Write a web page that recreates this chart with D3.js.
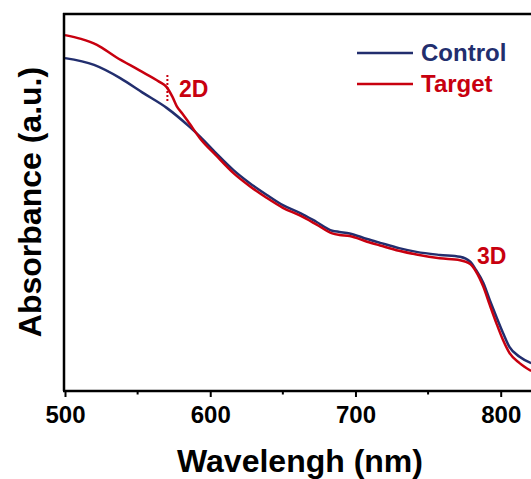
<html>
<head>
	<script src="https://d3js.org/d3.v7.min.js"></script>
	<style>
		body { margin: 0; background: #fff; }
		text { font-family: Arial, "Liberation Sans", sans-serif; font-weight: bold; }
	</style>
</head>
<body>
	<script>
		// wavelength (nm) and absorbance (a.u.)
		var wlControl = [500,520,538,554,570,586,593,604,616,627,639,650,662,673,684,689,696,708,717,730,742,758,772,779,783,788,792.5,797,801.6,806,813,821];
		var absControl = [0.883,0.865,0.830,0.790,0.751,0.700,0.675,0.631,0.586,0.552,0.520,0.493,0.472,0.449,0.425,0.422,0.418,0.403,0.393,0.379,0.369,0.361,0.356,0.343,0.321,0.287,0.241,0.197,0.154,0.117,0.091,0.074];
		var wlTarget = [500,511,522,535,551,565,570,574,577,581,586,593,604,616,627,639,650,662,673,684,689,696,708,717,730,742,758,772,779,783,788,792.5,797,801.6,806,813,821];
		var absTarget = [0.944,0.934,0.918,0.886,0.851,0.820,0.806,0.780,0.755,0.735,0.708,0.670,0.625,0.578,0.544,0.512,0.486,0.465,0.442,0.418,0.414,0.411,0.396,0.386,0.372,0.362,0.352,0.347,0.337,0.317,0.277,0.228,0.180,0.135,0.101,0.074,0.053];
		var xTicks = [500,600,700,800];
		var xMinor = [550,650,750];
		var seriesNames = ["Control","Target"];
		var colors = ["#222e6e","#c8000f"];
		var marks = [{label:"2D", wl:570.5}, {label:"3D", wl:780}];

		var w = 531, h = 479;
		var mLeft = 64, mTop = 14, mBottom = 391;

		var x = d3.scaleLinear().domain([500, 800]).range([65, 500.7]);
		var y = d3.scaleLinear().domain([0, 1]).range([mBottom, mTop]);

		var svg = d3.select("body").append("svg").attr("width", w).attr("height", h);

		svg.append("clipPath").attr("id", "clip")
			.append("rect").attr("x", mLeft).attr("y", mTop).attr("width", w - mLeft).attr("height", mBottom - mTop);

		var line = d3.line()
			.x(function(d){ return x(d[0]); })
			.y(function(d){ return y(d[1]); })
			.curve(d3.curveMonotoneX);

		var series = [d3.zip(wlControl, absControl), d3.zip(wlTarget, absTarget)];

		var g = svg.append("g").attr("clip-path", "url(#clip)");
		series.forEach(function(s, i){
			g.append("path").attr("d", line(s))
				.attr("fill", "none").attr("stroke", colors[i]).attr("stroke-width", 2.5);
		});

		// 2D marker (dotted) and labels
		svg.append("line")
			.attr("x1", x(marks[0].wl)).attr("x2", x(marks[0].wl))
			.attr("y1", 75).attr("y2", 103)
			.attr("stroke", colors[1]).attr("stroke-width", 2).attr("stroke-dasharray", "2,2");
		svg.append("text").attr("x", 179).attr("y", 97).attr("font-size", 23)
			.attr("fill", colors[1]).text(marks[0].label);
		svg.append("text").attr("x", 477).attr("y", 264).attr("font-size", 23)
			.attr("fill", colors[1]).text(marks[1].label);

		// frame: left and top
		svg.append("line").attr("x1", mLeft).attr("x2", mLeft).attr("y1", mTop - 1).attr("y2", mBottom)
			.attr("stroke", "#000").attr("stroke-width", 2.5);
		svg.append("line").attr("x1", mLeft - 1).attr("x2", w).attr("y1", mTop).attr("y2", mTop)
			.attr("stroke", "#000").attr("stroke-width", 2.5);

		// x axis
		var xAxis = d3.axisBottom(x).tickValues(xTicks).tickSize(6).tickFormat(d3.format("d"));
		var ax = svg.append("g").attr("transform", "translate(0," + mBottom + ")").call(xAxis);
		ax.select(".domain").remove();
		ax.append("line").attr("x1", mLeft - 1).attr("x2", w).attr("stroke", "#000").attr("stroke-width", 2.5);
		ax.selectAll(".tick line").attr("stroke-width", 2);
		ax.selectAll(".tick text").attr("font-size", 24).attr("fill", "#000").attr("y", 15).attr("dy", "0.71em")
			.attr("font-family", "Arial, 'Liberation Sans', sans-serif").attr("font-weight", "bold");
		ax.selectAll(".minor").data(xMinor).enter().append("line")
			.attr("x1", function(d){ return x(d); }).attr("x2", function(d){ return x(d); })
			.attr("y1", 0).attr("y2", 3.5).attr("stroke", "#000").attr("stroke-width", 2);

		svg.append("text").attr("x", 300).attr("y", 472).attr("text-anchor", "middle")
			.attr("font-size", 32).text("Wavelengh (nm)");
		svg.append("text").attr("transform", "translate(41,202) rotate(-90)").attr("text-anchor", "middle")
			.attr("font-size", 32).text("Absorbance (a.u.)");

		// legend
		var legY = [53, 84];
		seriesNames.forEach(function(n, i){
			svg.append("line").attr("x1", 357).attr("x2", 413).attr("y1", legY[i]).attr("y2", legY[i])
				.attr("stroke", colors[i]).attr("stroke-width", 2.5);
			svg.append("text").attr("x", 421).attr("y", legY[i] + 8).attr("font-size", 24)
				.attr("fill", colors[i]).text(n);
		});
	</script>
</body>
</html>
